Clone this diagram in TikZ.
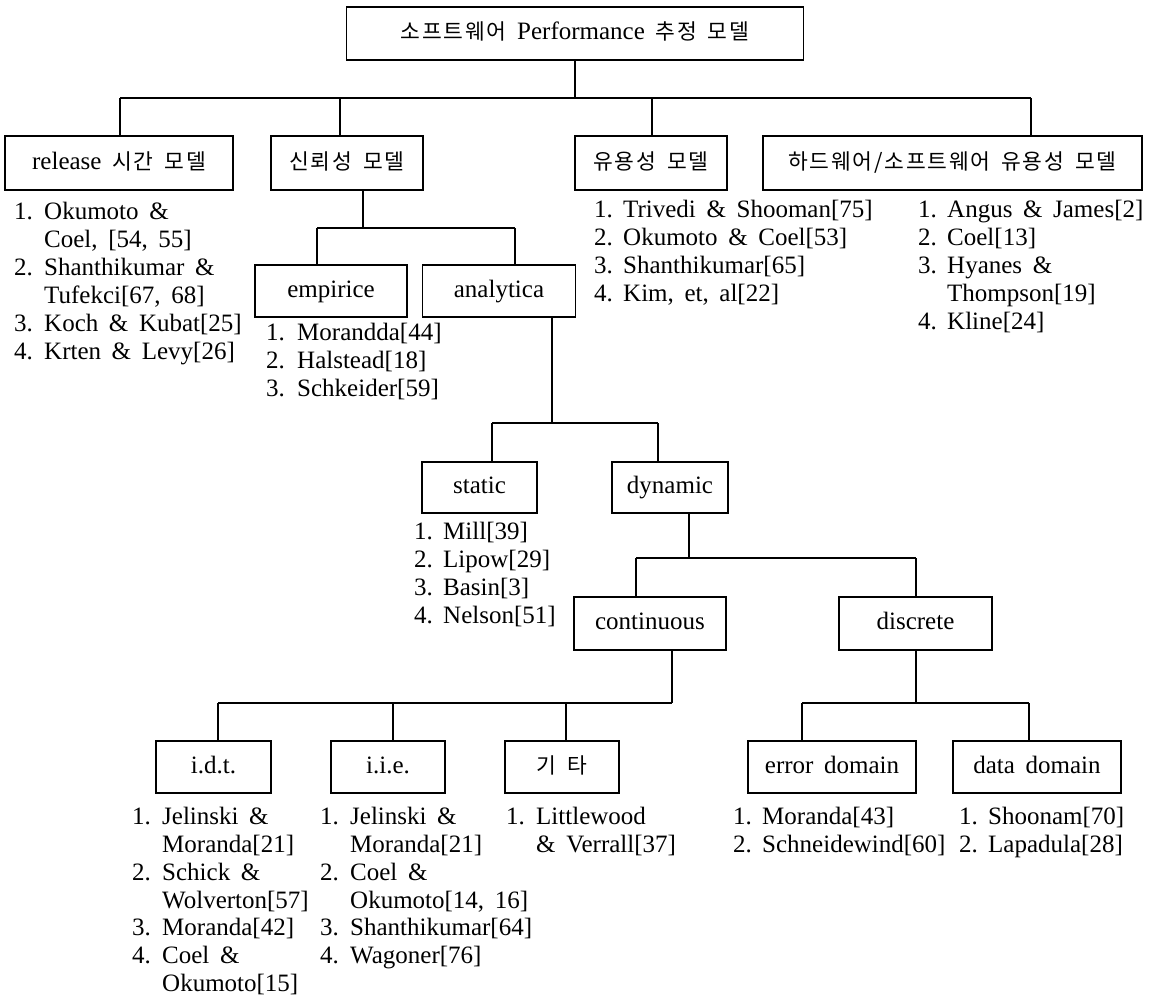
\documentclass[tikz,border=0pt]{standalone}
\usepackage{fontspec}
\setmainfont{Liberation Serif}[WordSpace=1.7]
\newfontfamily\kr{Noto Sans CJK KR}[Scale=0.86, LetterSpace=8, WordSpace=1.7]
\newcommand\nm[2][29pt]{\strut\makebox[#1][l]{#2}}
\begin{document}
\begin{tikzpicture}[x=1pt,y=-1pt,
  box/.style={draw, line width=1.5pt, inner sep=0pt, text height=18pt, text depth=6pt, font=\fontsize{25}{28}\selectfont},
  lst/.style={anchor=north west, inner sep=0pt, align=left, font=\fontsize{25}{28}\selectfont},
  lstb/.style={lst, font=\fontsize{25}{27.8}\selectfont},
  conn/.style={line width=1.3pt}]
\useasboundingbox (0,0) rectangle (1151,997);

% boxes
\node[box, minimum width=457pt, minimum height=53pt] (root) at (575,33.5) {{\kr 소프트웨어} Performance {\kr 추정 모델}};
\node[box, minimum width=228pt, minimum height=54pt] (rel) at (119,163) {release {\kr 시간 모델}};
\node[box, minimum width=152pt, minimum height=54pt] (rbl) at (347,163) {{\kr 신뢰성 모델}};
\node[box, minimum width=152pt, minimum height=54pt] (ava) at (651,163) {{\kr 유용성 모델}};
\node[box, minimum width=379pt, minimum height=54pt] (hws) at (952.5,163) {{\kr 하드웨어/소프트웨어 유용성 모델}};
\node[box, minimum width=152pt, minimum height=52pt] (emp) at (331,291) {empirice};
\node[box, minimum width=153pt, minimum height=52pt] (ana) at (499,291) {analytica};
\node[box, minimum width=115pt, minimum height=51pt] (sta) at (479.5,487.5) {static};
\node[box, minimum width=116pt, minimum height=51pt] (dyn) at (670,487.5) {dynamic};
\node[box, minimum width=152pt, minimum height=53pt] (con) at (650,623.5) {continuous};
\node[box, minimum width=153pt, minimum height=53pt] (dis) at (915.5,623.5) {discrete};
\node[box, minimum width=115pt, minimum height=52pt] (idt) at (213.5,767) {i.d.t.};
\node[box, minimum width=114pt, minimum height=52pt] (iie) at (388,767) {i.i.e.};
\node[box, minimum width=114pt, minimum height=52pt] (etc) at (562,767) {{\kr 기 타}};
\node[box, minimum width=168pt, minimum height=52pt] (err) at (832,767) {error domain};
\node[box, minimum width=168pt, minimum height=52pt] (dat) at (1037,767) {data domain};

% bus coordinates
\coordinate (b1r) at (575,98);
\coordinate (b1a) at (120,98);
\coordinate (b1b) at (340,98);
\coordinate (b1c) at (652,98);
\coordinate (b1d) at (1031,98);
\coordinate (b2r) at (363,228);
\coordinate (b2a) at (317,228);
\coordinate (b2b) at (515,228);
\coordinate (b3r) at (552,423);
\coordinate (b3a) at (492,423);
\coordinate (b3b) at (658,423);
\coordinate (b4r) at (689,558);
\coordinate (b4a) at (636,558);
\coordinate (b4b) at (916,558);
\coordinate (b5r) at (672,703);
\coordinate (b5a) at (218,703);
\coordinate (b5b) at (393,703);
\coordinate (b5c) at (566,703);
\coordinate (b6r) at (916,703);
\coordinate (b6a) at (802,703);
\coordinate (b6b) at (1029,703);

% connectors
\draw[conn] (root.south) -- (b1r);
\draw[conn] (b1a) -- (b1d);
\draw[conn] (b1a) -- (rel.north -| b1a);
\draw[conn] (b1b) -- (rbl.north -| b1b);
\draw[conn] (b1c) -- (ava.north -| b1c);
\draw[conn] (b1d) -- (hws.north -| b1d);

\draw[conn] (rbl.south -| b2r) -- (b2r);
\draw[conn] (b2a) -- (b2b);
\draw[conn] (b2a) -- (emp.north -| b2a);
\draw[conn] (b2b) -- (ana.north -| b2b);

\draw[conn] (ana.south -| b3r) -- (b3r);
\draw[conn] (b3a) -- (b3b);
\draw[conn] (b3a) -- (sta.north -| b3a);
\draw[conn] (b3b) -- (dyn.north -| b3b);

\draw[conn] (dyn.south -| b4r) -- (b4r);
\draw[conn] (b4a) -- (b4b);
\draw[conn] (b4a) -- (con.north -| b4a);
\draw[conn] (b4b) -- (dis.north -| b4b);

\draw[conn] (con.south -| b5r) -- (b5r);
\draw[conn] (b5a) -- (b5r);
\draw[conn] (b5a) -- (idt.north -| b5a);
\draw[conn] (b5b) -- (iie.north -| b5b);
\draw[conn] (b5c) -- (etc.north -| b5c);

\draw[conn] (dis.south -| b6r) -- (b6r);
\draw[conn] (b6a) -- (b6b);
\draw[conn] (b6a) -- (err.north -| b6a);
\draw[conn] (b6b) -- (dat.north -| b6b);

% lists
\node[lst] (lrel) at (14,200) {\nm[30pt]{1.}Okumoto \&\\ \nm[30pt]{}Coel, [54, 55]\\ \nm[30pt]{2.}Shanthikumar \&\\ \nm[30pt]{}Tufekci[67, 68]\\ \nm[30pt]{3.}Koch \& Kubat[25]\\ \nm[30pt]{4.}Krten \& Levy[26]};
\node[lst] (lemp) at (266,321) {\nm[31pt]{1.}Morandda[44]\\ \nm[31pt]{2.}Halstead[18]\\ \nm[31pt]{3.}Schkeider[59]};
\node[lst] (lava) at (594,198) {\nm{1.}Trivedi \& Shooman[75]\\ \nm{2.}Okumoto \& Coel[53]\\ \nm{3.}Shanthikumar[65]\\ \nm{4.}Kim, et, al[22]};
\node[lst] (lhws) at (918,198) {\nm{1.}Angus \& James[2]\\ \nm{2.}Coel[13]\\ \nm{3.}Hyanes \&\\ \nm{}Thompson[19]\\ \nm{4.}Kline[24]};
\node[lst] (lsta) at (414,520) {\nm[29pt]{1.}Mill[39]\\ \nm[29pt]{2.}Lipow[29]\\ \nm[29pt]{3.}Basin[3]\\ \nm[29pt]{4.}Nelson[51]};
\node[lstb] (lidt) at (132,805) {\nm[30pt]{1.}Jelinski \&\\ \nm[30pt]{}Moranda[21]\\ \nm[30pt]{2.}Schick \&\\ \nm[30pt]{}Wolverton[57]\\ \nm[30pt]{3.}Moranda[42]\\ \nm[30pt]{4.}Coel \&\\ \nm[30pt]{}Okumoto[15]};
\node[lstb] (liie) at (320,805) {\nm[30pt]{1.}Jelinski \&\\ \nm[30pt]{}Moranda[21]\\ \nm[30pt]{2.}Coel \&\\ \nm[30pt]{}Okumoto[14, 16]\\ \nm[30pt]{3.}Shanthikumar[64]\\ \nm[30pt]{4.}Wagoner[76]};
\node[lstb] (letc) at (506,805) {\nm[30pt]{1.}Littlewood\\ \nm[30pt]{}\& Verrall[37]};
\node[lstb] (lerr) at (733,805) {\nm{1.}Moranda[43]\\ \nm{2.}Schneidewind[60]};
\node[lstb] (ldat) at (959,805) {\nm{1.}Shoonam[70]\\ \nm{2.}Lapadula[28]};
\end{tikzpicture}
\end{document}
